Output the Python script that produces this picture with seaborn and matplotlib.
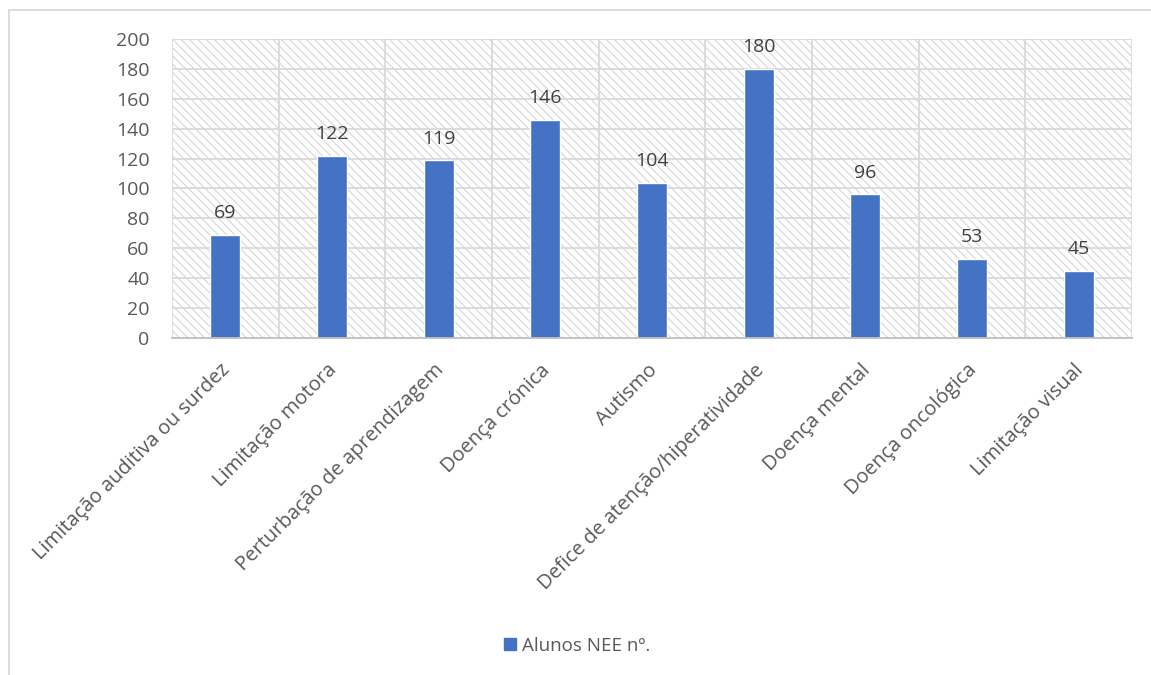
import matplotlib
matplotlib.use("Agg")
import matplotlib.pyplot as plt
import matplotlib.transforms as mtransforms
import seaborn as sns
import pandas as pd
from matplotlib.patches import Rectangle
from matplotlib.lines import Line2D

categories = [
    "Limitação auditiva ou surdez",
    "Limitação motora",
    "Perturbação de aprendizagem",
    "Doença crónica",
    "Autismo",
    "Defice de atenção/hiperatividade",
    "Doença mental",
    "Doença oncológica",
    "Limitação visual",
]
values = [69, 122, 119, 146, 104, 180, 96, 53, 45]
series_name = "Alunos NEE nº."
y_ticks = list(range(0, 201, 20))

BAR = "#4472C4"
TEXT = "#595959"
GRID = "#d9d9d9"

sns.set_theme(style="white")
plt.rcParams["font.family"] = ["Open Sans", "DejaVu Sans"]
plt.rcParams["hatch.linewidth"] = 0.8

df = pd.DataFrame({"categoria": categories, "valor": values})

fig = plt.figure(figsize=(11.51, 6.75), dpi=100)
ax = fig.add_axes([0.1494, 0.4993, 0.8341, 0.4429])

# hatched plot area
ax.patch.set_facecolor("white")
hatch_rect = Rectangle((0, 0), 1, 1, transform=ax.transAxes, fill=False,
                       hatch="\\\\\\\\", edgecolor="#d6d6d6", linewidth=0, zorder=0)
ax.add_patch(hatch_rect)

sns.barplot(data=df, x="categoria", y="valor", color=BAR, width=0.28,
            saturation=1, ax=ax, zorder=3)

ax.set_ylim(0, 200)
ax.set_xlim(-0.5, len(categories) - 0.5)
ax.set_yticks(y_ticks)
ax.set_yticklabels([str(t) for t in y_ticks])

for t in y_ticks[1:]:
    ax.axhline(t, color=GRID, linewidth=1.3, zorder=1)
for i in range(len(categories) + 1):
    ax.axvline(i - 0.5, color=GRID, linewidth=1.3, zorder=1)

for s in ["top", "right", "left"]:
    ax.spines[s].set_visible(False)
ax.spines["bottom"].set_color("#bfbfbf")
ax.spines["bottom"].set_linewidth(1.3)
ax.spines["bottom"].set_zorder(4)

ax.set_xlabel("")
ax.set_ylabel("")
ax.tick_params(axis="y", length=0, pad=16, labelsize=14, labelcolor=TEXT)
ax.tick_params(axis="x", length=0, pad=16, labelsize=14.5, labelcolor=TEXT)
shift = mtransforms.ScaledTranslation(-5 / 100, 0, fig.dpi_scale_trans)
for lbl in ax.get_xticklabels():
    lbl.set_rotation(45)
    lbl.set_ha("right")
    lbl.set_rotation_mode("anchor")
    lbl.set_transform(lbl.get_transform() + shift)

ax.bar_label(ax.containers[0], labels=[str(v) for v in values], padding=9,
             fontsize=14, color="#404040")

# legend
handle = Line2D([], [], marker="s", linestyle="none", markersize=9,
                markerfacecolor=BAR, markeredgecolor=BAR)
fig.legend([handle], [series_name], loc="center", bbox_to_anchor=(0.5, 0.043),
           frameon=False, fontsize=13.5, labelcolor=TEXT, handletextpad=0.1,
           handlelength=1.0)

# outer frame (left and top edges)
fig.add_artist(Line2D([8.5 / 1151, 8.5 / 1151], [0, 1 - 9.5 / 675],
                      transform=fig.transFigure, color=GRID, linewidth=1.3))
fig.add_artist(Line2D([8.5 / 1151, 1], [1 - 9.5 / 675, 1 - 9.5 / 675],
                      transform=fig.transFigure, color=GRID, linewidth=1.3))

fig.savefig("out.png", dpi=100)
